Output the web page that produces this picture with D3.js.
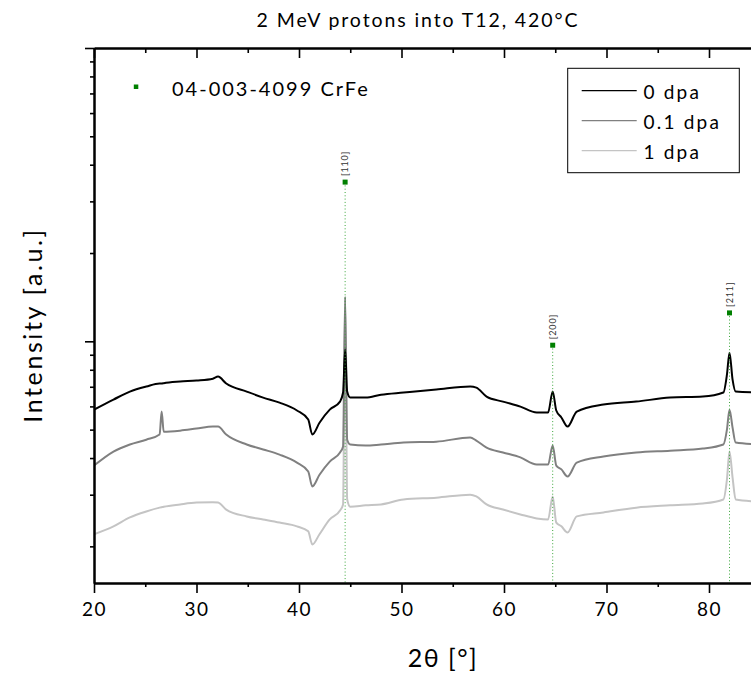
<!DOCTYPE html>
<html>
<head>
<meta charset="utf-8">
<script src="https://cdn.jsdelivr.net/npm/d3@7"></script>
<style>
  html, body { margin: 0; padding: 0; background: #fff; overflow: hidden; }
  svg text { font-family: Lato, "Open Sans", sans-serif; fill: #000; }
</style>
</head>
<body>
<svg id="chart" width="751" height="673"></svg>
<script>
// Diffraction angle grid (degrees 2θ) shared by the three scans
const twoTheta = [20, 21.9, 23.5, 25.1, 26.4, 26.6, 26.8, 28.4, 30, 31.6, 32.1, 32.9, 34.9, 36.5,
  38.1, 39.8, 40.9, 41.3, 42, 43, 44, 44.3, 44.5, 44.7, 45, 46.5, 48, 50.2, 53.4, 56.7, 57.3,
  58.3, 59.9, 61.6, 63.2, 64.3, 64.75, 65.1, 65.6, 66.2, 67.1, 69.7, 72.9, 76.2, 79.4, 81.4,
  81.75, 82.0, 82.3, 82.6, 85];

// Intensity (a.u.) for each irradiation dose
const counts0dpa = [585, 633, 674, 701, 718, 718, 720, 729, 735, 746, 758, 718, 674, 643,
  618, 581, 541, 481, 528, 585, 623, 669, 937, 674, 643, 643, 658, 669, 685, 701, 695,
  648, 623, 599, 572, 572, 674, 581, 550, 512, 576, 609, 623, 643, 648, 669,
  770, 915, 740, 674, 669];
const counts01dpa = [377, 421, 445, 462, 481, 576, 492, 496, 504, 512, 512, 481, 445, 428,
  411, 386, 360, 320, 351, 389, 418, 438, 1420, 462, 445, 441, 445, 452, 455, 470, 459,
  434, 418, 402, 380, 380, 441, 377, 366, 346, 386, 405, 418, 424, 431, 445,
  500, 585, 508, 452, 445];
const counts1dpa = [220, 234, 251, 263, 271, 272, 273, 278, 282, 283, 282, 267, 253, 247,
  241, 234, 225, 203, 220, 247, 265, 278, 1387, 289, 273, 276, 278, 289, 293, 300, 296,
  278, 267, 257, 249, 247, 296, 241, 234, 223, 253, 261, 271, 276, 280, 289,
  338, 421, 343, 289, 284];

const seriesNames = ["0 dpa", "0.1 dpa", "1 dpa"];
const seriesColors = ["#000000", "#808080", "#c4c4c4"];

// Reference pattern 04-003-4099 (CrFe) stick positions
const refCard = "04-003-4099 CrFe";
const refAngles = [44.5, 64.75, 82.0];
const refIntensities = [3490, 970, 1250];
const refLabels = ["[110]", "[200]", "[211]"];

const xMajorTicks = [20, 30, 40, 50, 60, 70, 80];
const xMinorTicks = [25, 35, 45, 55, 65, 75, 85];
const yMajorTicks = [1000, 10000];
const yMinorTicks = [200, 300, 400, 500, 600, 700, 800, 900,
  2000, 3000, 4000, 5000, 6000, 7000, 8000, 9000];

const titleText = "2 MeV protons into T12, 420\u00B0C";
const xLabel = "2\u03B8 [\u00B0]";
const yLabel = "Intensity [a.u.]";

const svg = d3.select("#chart");
const plot = { left: 94, right: 791, top: 48, bottom: 583 };

const x = d3.scaleLinear().domain([20, 88]).range([plot.left, plot.right]);
const y = d3.scaleLog().domain([150, 10000]).range([plot.bottom, plot.top]);

svg.append("defs").append("clipPath").attr("id", "plotClip")
  .append("rect")
  .attr("x", plot.left).attr("y", plot.top)
  .attr("width", plot.right - plot.left).attr("height", plot.bottom - plot.top);

// Title
svg.append("text")
  .attr("x", 418).attr("y", 27)
  .attr("text-anchor", "middle")
  .style("font-size", "19.5px").style("letter-spacing", "1.9px")
  .text(titleText);

// Curves
const series = [counts0dpa, counts01dpa, counts1dpa];
const line = d3.line().curve(d3.curveMonotoneX).x(d => x(d[0])).y(d => y(d[1]));
const curves = svg.append("g").attr("clip-path", "url(#plotClip)");
[2, 1, 0].forEach(i => {
  curves.append("path")
    .datum(twoTheta.map((t, k) => [t, series[i][k]]))
    .attr("d", line)
    .attr("fill", "none")
    .attr("stroke", seriesColors[i])
    .attr("stroke-width", 2)
    .attr("stroke-linejoin", "round");
});

// Reference sticks: dotted drop lines, markers and hkl labels
const refs = svg.append("g");
refAngles.forEach((a, i) => {
  const px = x(a), py = y(refIntensities[i]);
  refs.append("line")
    .attr("x1", px).attr("x2", px)
    .attr("y1", py).attr("y2", plot.bottom)
    .attr("stroke", "#3aa63a").attr("stroke-width", 1)
    .attr("stroke-dasharray", "1,2.3");
  refs.append("rect")
    .attr("x", px - 2.5).attr("y", py - 2.5)
    .attr("width", 5).attr("height", 5)
    .attr("fill", "#008000");
  refs.append("text")
    .attr("transform", `translate(${px + 3.2},${py - 6}) rotate(-90)`)
    .style("font-size", "9px").style("letter-spacing", "0.8px")
    .style("fill", "#333")
    .text(refLabels[i]);
});

// Axes
function styleAxis(g) {
  g.select(".domain").attr("stroke", "#000").attr("stroke-width", 2);
  g.selectAll(".tick line").attr("stroke", "#000").attr("stroke-width", 1.6);
}
svg.append("g").attr("transform", `translate(0,${plot.bottom})`)
  .call(d3.axisBottom(x).tickValues(xMinorTicks).tickSize(4).tickSizeOuter(0).tickFormat(""))
  .call(styleAxis);
const xAxis = svg.append("g").attr("transform", `translate(0,${plot.bottom})`)
  .call(d3.axisBottom(x).tickValues(xMajorTicks).tickSize(10).tickSizeOuter(0).tickPadding(10)
    .tickFormat(d3.format("d")))
  .call(styleAxis);
xAxis.selectAll(".tick text")
  .style("font-family", "Lato, 'Open Sans', sans-serif")
  .style("font-size", "19px").style("letter-spacing", "1.6px");

svg.append("g").attr("transform", `translate(0,${plot.top})`)
  .call(d3.axisTop(x).tickValues(xMinorTicks).tickSize(-5).tickSizeOuter(0).tickFormat(""))
  .call(styleAxis);
svg.append("g").attr("transform", `translate(0,${plot.top})`)
  .call(d3.axisTop(x).tickValues(xMajorTicks).tickSize(-10).tickSizeOuter(0).tickFormat(""))
  .call(styleAxis);

svg.append("g").attr("transform", `translate(${plot.left},0)`)
  .call(d3.axisLeft(y).tickValues(yMinorTicks).tickSize(4).tickSizeOuter(0).tickFormat(""))
  .call(styleAxis);
svg.append("g").attr("transform", `translate(${plot.left},0)`)
  .call(d3.axisLeft(y).tickValues(yMajorTicks).tickSize(9).tickSizeOuter(0).tickFormat(""))
  .call(styleAxis);

// Axis titles
svg.append("text")
  .attr("x", 443).attr("y", 667)
  .attr("text-anchor", "middle")
  .style("font-size", "25px").style("letter-spacing", "1.5px")
  .text(xLabel);
svg.append("text")
  .attr("transform", "translate(42,325) rotate(-90)")
  .attr("text-anchor", "middle")
  .style("font-size", "25px").style("letter-spacing", "2.6px")
  .text(yLabel);

// Reference card key
svg.append("rect")
  .attr("x", 133.8).attr("y", 84.5).attr("width", 4.5).attr("height", 4.5)
  .attr("fill", "#008000");
svg.append("text")
  .attr("x", 172).attr("y", 96)
  .style("font-size", "20px").style("letter-spacing", "2px")
  .text(refCard);

// Series legend
const legend = svg.append("g");
legend.append("rect")
  .attr("x", 567.7).attr("y", 68.3).attr("width", 171.6).attr("height", 104.4)
  .attr("fill", "#fff").attr("stroke", "#000").attr("stroke-width", 1);
seriesNames.forEach((name, i) => {
  const ly = 90.7 + i * 30;
  legend.append("line")
    .attr("x1", 581.7).attr("x2", 636.7).attr("y1", ly).attr("y2", ly)
    .attr("stroke", seriesColors[i]).attr("stroke-width", 1.2);
  legend.append("text")
    .attr("x", 643.5).attr("y", ly + 8.5)
    .style("font-size", "19px").style("letter-spacing", "2.2px")
    .text(name);
});
</script>
</body>
</html>
